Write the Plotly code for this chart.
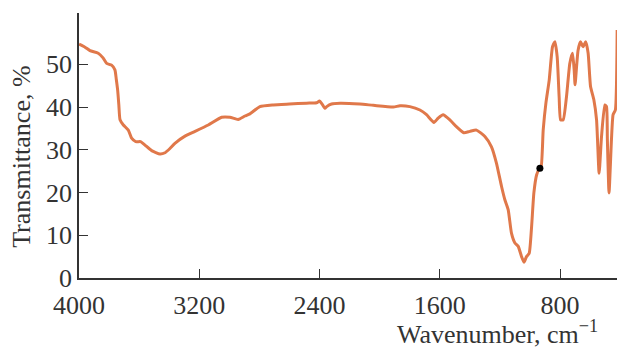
import plotly.graph_objects as go

wavenumber = [4000, 3960, 3927, 3872, 3840, 3816, 3783, 3761, 3752, 3743, 3735, 3727, 3705, 3672,
              3650, 3623, 3590, 3561, 3517, 3461, 3428, 3395, 3362, 3295, 3228, 3140, 3051, 2996,
              2941, 2896, 2863, 2797, 2708, 2600, 2486, 2420, 2400, 2385, 2364, 2352, 2320, 2264,
              2131, 2042, 1909, 1865, 1799, 1732, 1688, 1639, 1611, 1578, 1533, 1489, 1440, 1400,
              1356, 1300, 1256, 1223, 1189, 1167, 1145, 1123, 1100, 1078, 1056, 1040, 1023, 1005,
              989, 974, 956, 939, 927, 912, 894, 872, 850, 834, 819, 806, 796, 779, 757, 735, 717,
              706, 700, 690, 680, 664, 647, 629, 613, 597, 575, 557, 540, 524, 502, 491, 485, 474,
              458, 447, 432, 420]
transmittance = [54.7, 54.0, 53.2, 52.6, 51.5, 50.2, 49.8, 48.7, 46.5, 44.0, 40.5, 37.0, 35.8, 34.6,
                 32.7, 31.9, 31.9, 31.1, 29.8, 29.0, 29.3, 30.3, 31.5, 33.2, 34.3, 35.8, 37.6, 37.6,
                 37.1, 37.9, 38.4, 40.1, 40.5, 40.7, 40.9, 41.0, 41.4, 40.8, 39.7, 40.1, 40.7, 40.9,
                 40.7, 40.4, 40.0, 40.3, 40.1, 39.3, 38.2, 36.4, 37.4, 38.2, 37.0, 35.4, 34.0, 34.3,
                 34.6, 33.1, 30.7, 26.9, 21.4, 18.3, 16.0, 10.5, 8.2, 7.4, 5.0, 3.7, 5.0, 5.8,
                 12.1, 19.9, 24.1, 25.5, 25.7, 34.6, 40.9, 46.3, 54.1, 55.3, 51.8, 42.4, 37.0, 37.0,
                 42.4, 50.2, 52.6, 48.7, 45.2, 49.4, 53.3, 55.3, 54.1, 55.3, 52.6, 44.8, 41.7, 37.0,
                 24.5, 33.1, 40.5, 40.1, 32.3, 19.9, 32.3, 38.2, 39.3, 58.0]

marker_x = [934]
marker_y = [25.7]

x_ticks = [4000, 3200, 2400, 1600, 800]
y_ticks = [0, 10, 20, 30, 40, 50]

FONT = "Liberation Serif"
AX = "#333333"
FS = 26

fig = go.Figure()
fig.add_trace(go.Scatter(x=wavenumber, y=transmittance, mode="lines",
                         line=dict(color="#e0784a", width=3, shape="spline", smoothing=0.5),
                         showlegend=False, hoverinfo="skip"))
fig.add_trace(go.Scatter(x=marker_x, y=marker_y, mode="markers",
                         marker=dict(color="black", size=7), showlegend=False))

fig.update_layout(
    width=617, height=350,
    margin=dict(l=79, r=0, t=13, b=72),
    paper_bgcolor="white", plot_bgcolor="white",
    font=dict(family=FONT, size=FS, color=AX),
)
fig.update_xaxes(range=[4000, 421], tickvals=x_ticks, ticks="inside", ticklen=9,
                 tickcolor=AX, showline=True, linecolor=AX, linewidth=1.5, ticklabelstandoff=3,
                 showgrid=False, zeroline=False, tickfont=dict(family=FONT, size=FS, color=AX))
fig.update_yaxes(range=[0, 62], tickvals=y_ticks, ticks="inside", ticklen=9,
                 tickcolor=AX, showline=True, linecolor=AX, linewidth=1.5,
                 showgrid=False, zeroline=False, tickfont=dict(family=FONT, size=FS, color=AX))

fig.add_annotation(text="Wavenumber, cm<sup>−1</sup>", xref="paper", yref="paper",
                   x=0.968, y=-0.205, xanchor="right", yanchor="middle", showarrow=False,
                   font=dict(family=FONT, size=FS, color=AX))
fig.add_annotation(text="Transmittance, %", xref="paper", yref="paper",
                   x=-0.106, y=0.457, xanchor="center", yanchor="middle", textangle=-90,
                   showarrow=False, font=dict(family=FONT, size=FS, color=AX))

fig.write_html("out.html")
